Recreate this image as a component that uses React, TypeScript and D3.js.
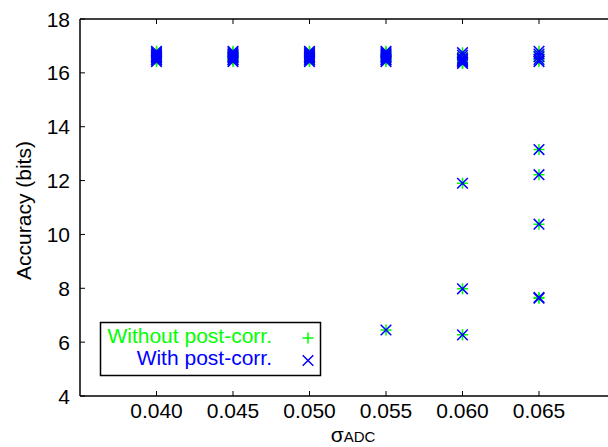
import React from "react";
import * as d3 from "d3";

const sigmas = [0.04, 0.045, 0.05, 0.055, 0.06, 0.065];
const xTicks = [0.04, 0.045, 0.05, 0.055, 0.06, 0.065];
const yTicks = [4, 6, 8, 10, 12, 14, 16, 18];

// accuracy per run, for each sigma (with post-correction)
const withCorr: number[][] = [
  [16.42, 16.5, 16.55, 16.6, 16.65, 16.7, 16.75, 16.8, 16.58, 16.48],
  [16.42, 16.5, 16.55, 16.6, 16.65, 16.7, 16.75, 16.8, 16.58, 16.48],
  [16.42, 16.5, 16.55, 16.6, 16.65, 16.7, 16.75, 16.8, 16.58, 16.48],
  [16.42, 16.5, 16.55, 16.6, 16.65, 16.7, 16.75, 16.8, 6.45, 16.48],
  [16.35, 16.4, 16.45, 16.5, 16.55, 16.65, 16.75, 11.9, 7.98, 6.27],
  [16.42, 16.5, 16.6, 16.7, 16.8, 13.15, 12.22, 10.38, 7.66, 7.63],
];
// without post-correction (overlapping)
const withoutCorr: number[][] = [
  [16.42, 16.5, 16.55, 16.6, 16.65, 16.7, 16.75, 16.8, 16.58, 16.48],
  [16.42, 16.5, 16.55, 16.6, 16.65, 16.7, 16.75, 16.8, 16.58, 16.48],
  [16.42, 16.5, 16.55, 16.6, 16.65, 16.7, 16.75, 16.8, 16.58, 16.48],
  [16.42, 16.5, 16.55, 16.6, 16.65, 16.7, 16.75, 16.8, 6.45, 16.48],
  [16.35, 16.4, 16.45, 16.5, 16.55, 16.65, 16.75, 11.9, 7.98, 6.27],
  [16.42, 16.5, 16.6, 16.7, 16.8, 13.15, 12.22, 10.38, 7.66, 7.63],
];

const W = 608;
const H = 447;
const FONT = "Liberation Sans, Arial, sans-serif";

export default function App() {
  const x = d3.scaleLinear().domain([0.035, 0.07]).range([80, 615.5]);
  const y = d3.scaleLinear().domain([4, 18]).range([396, 19]);
  const fmt = d3.format(".3f");
  const green = "#00ff00";
  const blue = "#0000ff";
  const ms = 5.5;
  const xs = 5.3;
  const fs = 21;

  const plusPts: [number, number][] = [];
  withoutCorr.forEach((vals, i) => vals.forEach((v) => plusPts.push([sigmas[i], v])));
  const crossPts: [number, number][] = [];
  withCorr.forEach((vals, i) => vals.forEach((v) => crossPts.push([sigmas[i], v])));

  return (
    <svg
      width={W}
      height={H}
      style={{ position: "absolute", left: 0, top: 0, display: "block", background: "#fff" }}
      fontFamily={FONT}
    >
      <rect x={0} y={0} width={W} height={H} fill="#fff" />
      {/* axes */}
      <line x1={x(0.035)} x2={W} y1={y(4)} y2={y(4)} stroke="#000" strokeWidth={1.5} />
      <line x1={x(0.035)} x2={W} y1={y(18)} y2={y(18)} stroke="#000" strokeWidth={1.5} />
      <line x1={x(0.035)} x2={x(0.035)} y1={y(4)} y2={y(18)} stroke="#000" strokeWidth={1.5} />
      {xTicks.map((t) => (
        <g key={"xt" + t}>
          <line x1={x(t)} x2={x(t)} y1={y(4)} y2={y(4) - 5} stroke="#000" strokeWidth={1} />
          <line x1={x(t)} x2={x(t)} y1={y(18)} y2={y(18) + 5} stroke="#000" strokeWidth={1} />
          <text x={x(t)} y={418} textAnchor="middle" fontSize={fs}>
            {fmt(t)}
          </text>
        </g>
      ))}
      {yTicks.map((t) => (
        <g key={"yt" + t}>
          <line x1={x(0.035)} x2={x(0.035) + 5} y1={y(t)} y2={y(t)} stroke="#000" strokeWidth={1} />
          <text x={x(0.035) - 10} y={y(t) + 7.5} textAnchor="end" fontSize={fs}>
            {t}
          </text>
        </g>
      ))}
      <text
        transform={`translate(31,${(y(4) + y(18)) / 2 + 3}) rotate(-90)`}
        textAnchor="middle"
        fontSize={fs}
      >
        Accuracy (bits)
      </text>
      <text x={353} y={442} textAnchor="middle" fontSize={fs}>
        σ<tspan fontSize={15}>ADC</tspan>
      </text>
      {/* markers */}
      {plusPts.map(([a, b], i) => (
        <path
          key={"p" + i}
          d={`M${x(a) - ms},${y(b)}H${x(a) + ms}M${x(a)},${y(b) - ms}V${y(b) + ms}`}
          stroke={green}
          strokeWidth={1.5}
          fill="none"
        />
      ))}
      {crossPts.map(([a, b], i) => (
        <path
          key={"c" + i}
          d={`M${x(a) - xs},${y(b) - xs}L${x(a) + xs},${y(b) + xs}M${x(a) - xs},${y(b) + xs}L${x(a) + xs},${y(b) - xs}`}
          stroke={blue}
          strokeWidth={1.5}
          fill="none"
        />
      ))}
      {/* legend */}
      <rect x={100.5} y={322.5} width={220} height={53} fill="#fff" stroke="#000" strokeWidth={1.5} />
      <text x={272} y={343} textAnchor="end" fontSize={fs} fill={green}>
        Without post-corr.
      </text>
      <path d={`M${308 - ms},338H${308 + ms}M308,${338 - ms}V${338 + ms}`} stroke={green} strokeWidth={1.5} />
      <text x={272} y={365} textAnchor="end" fontSize={fs} fill={blue}>
        With post-corr.
      </text>
      <path
        d={`M${308 - xs},${360.5 - xs}L${308 + xs},${360.5 + xs}M${308 - xs},${360.5 + xs}L${308 + xs},${360.5 - xs}`}
        stroke={blue}
        strokeWidth={1.5}
      />
    </svg>
  );
}
